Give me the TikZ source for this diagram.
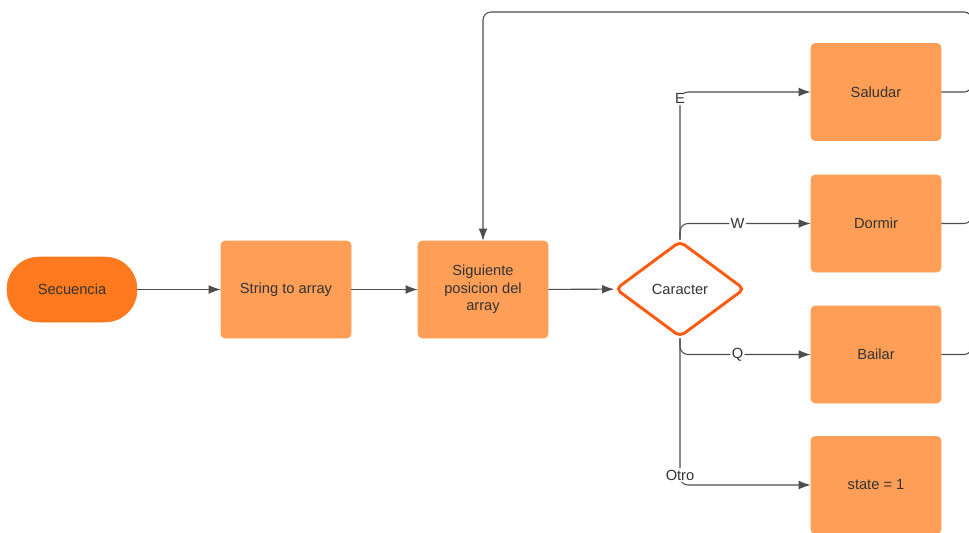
\documentclass[tikz,border=0pt]{standalone}
\usepackage{fontspec}
\setmainfont{Liberation Sans}
\usepackage{tikz}
\usetikzlibrary{shapes.geometric,arrows.meta,positioning}
\definecolor{cajanar}{HTML}{FF9F57}
\definecolor{inicionar}{HTML}{FF7A1E}
\definecolor{rombonar}{HTML}{FF5B0F}
\definecolor{texto}{HTML}{333333}
\definecolor{linea}{HTML}{4D4D4D}

\begin{document}
\begin{tikzpicture}[
	x=0.75pt, y=-0.75pt,
	every node/.style={
		font=\fontsize{11}{13}\selectfont,
		text=texto
	},
	inicio/.style={
		fill=inicionar,
		draw=inicionar,
		rounded corners=24pt,
		minimum width=97.5pt,
		minimum height=48.75pt
	},
	caja/.style={
		fill=cajanar,
		draw=cajanar,
		rounded corners=3pt,
		minimum width=97.5pt,
		minimum height=72.75pt,
		align=center
	},
	decision/.style={
		diamond,
		draw=rombonar,
		line width=2.2pt,
		fill=white,
		rounded corners=4pt,
		inner sep=0pt,
		minimum width=97pt,
		minimum height=72pt
	},
	flecha/.style={
		draw=linea,
		line width=0.8pt,
		rounded corners=6pt,
		-{Latex[length=9pt,width=6.5pt]}
	},
	linea/.style={
		draw=linea,
		line width=0.8pt,
		rounded corners=6pt
	},
	etiq/.style={
		fill=white,
		inner sep=1pt
	}
	]
	\useasboundingbox (0,0) rectangle (969,532);

	\node[inicio] at (72,289.5) (sec) {Secuencia};
	\node[caja] at (286,289.5) (str) {String to array};
	\node[caja] at (483,289.5) (sig) {Siguiente\\posicion del\\array};
	\node[decision] at (680,289) (car) {Caracter};

	\node[caja] at (876,92) (sal) {Saludar};
	\node[caja] at (876,223.5) (dor) {Dormir};
	\node[caja] at (876,354.5) (bai) {Bailar};
	\node[caja] at (876,485) (sta) {state = 1};

	\coordinate (rt) at (972,12);

	\draw[flecha] (sec) -- (str);
	\draw[flecha] (str) -- (sig);
	\draw[flecha] (sig) -- (car);

	\draw[flecha] (car.north) |- node[etiq, pos=0.5, yshift=-5pt] {E} (sal.west);
	\draw[flecha] (car.north) |- node[etiq, pos=0.72] {W} (dor.west);
	\draw[flecha] (car.south) |- node[etiq, pos=0.72] {Q} (bai.west);
	\draw[flecha] (car.south) |- node[etiq, pos=0.5, yshift=7.5pt] {Otro} (sta.west);

	% vuelta al siguiente caracter
	\draw[flecha] (sal.east) -| (rt) -| (sig.north);
	\draw[linea] (dor.east) -| (rt);
	\draw[linea] (bai.east) -| (rt);

\end{tikzpicture}
\end{document}
